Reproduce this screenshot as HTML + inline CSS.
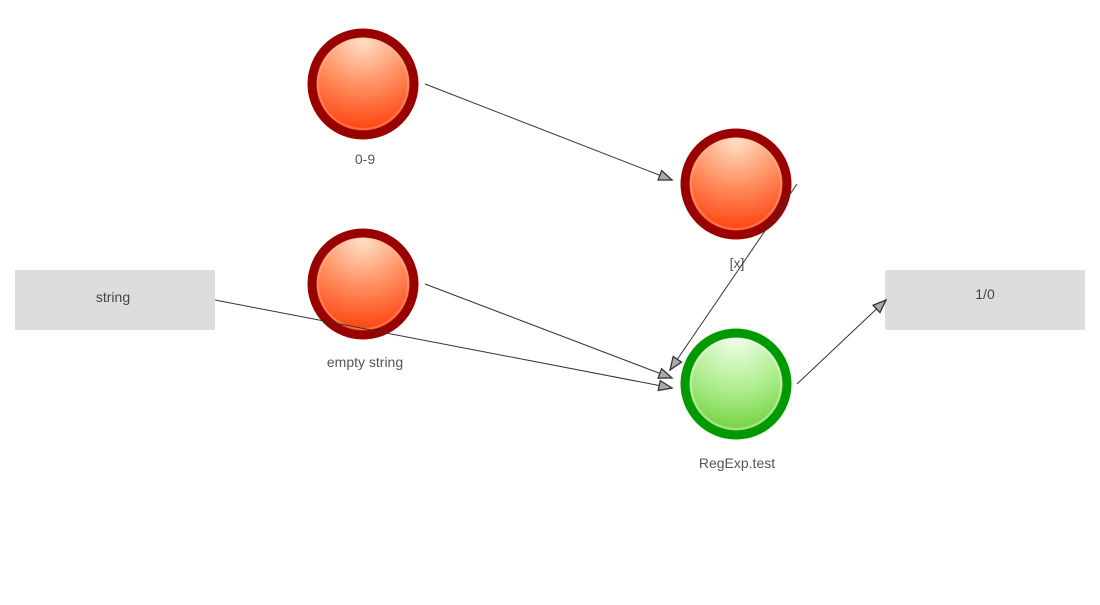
<!DOCTYPE html>
<html><head><style>
body{margin:0;background:#fff;width:1100px;height:600px;overflow:hidden;font-family:"Liberation Sans",sans-serif}
</style></head><body>
<svg width="1100" height="600" xmlns="http://www.w3.org/2000/svg">
<defs>
<radialGradient id="r" cx="0.5" cy="0.05" r="1">
<stop offset="0" stop-color="#ffe4cc"/><stop offset="0.5" stop-color="#ff8a5a"/><stop offset="1" stop-color="#ff3300"/></radialGradient>
<radialGradient id="g" cx="0.5" cy="0.05" r="1">
<stop offset="0" stop-color="#f2ffea"/><stop offset="0.5" stop-color="#b0ee90"/><stop offset="1" stop-color="#66cc33"/></radialGradient>
<marker id="a" markerWidth="16" markerHeight="12" refX="14" refY="6" orient="auto" markerUnits="userSpaceOnUse">
<path d="M1,1 L14,6 L1,11 Z" fill="#aaa" stroke="#333" stroke-width="1.3"/></marker>
</defs>
<rect x="15" y="270" width="200" height="60" fill="#dddddd"/>
<text x="113" y="302" font-size="14" fill="#444" text-anchor="middle">string</text>
<rect x="885" y="270" width="200" height="60" fill="#dddddd"/>
<text x="985" y="299" font-size="14" fill="#444" text-anchor="middle">1/0</text>
<g fill="url(#r)" stroke="#990000" stroke-width="9">
<circle cx="363" cy="84" r="51"/><circle cx="736" cy="184" r="51"/><circle cx="363" cy="284" r="51"/></g>
<circle cx="736" cy="384" r="51" fill="url(#g)" stroke="#009900" stroke-width="9"/>
<g fill="none" stroke-width="2" stroke-opacity="0.35">
<circle cx="363" cy="84" r="45" stroke="#ffc0a0"/><circle cx="736" cy="184" r="45" stroke="#ffc0a0"/><circle cx="363" cy="284" r="45" stroke="#ffc0a0"/><circle cx="736" cy="384" r="45" stroke="#ffffff"/></g>
<g font-size="14" fill="#555" text-anchor="middle">
<text x="365" y="164">0-9</text><text x="737" y="268">[x]</text>
<text x="365" y="367">empty string</text><text x="737" y="468">RegExp.test</text></g>
<g stroke="#333" stroke-width="1" marker-end="url(#a)">
<line x1="425" y1="84" x2="672" y2="180"/>
<line x1="797" y1="184" x2="670" y2="370"/>
<line x1="425" y1="284" x2="672" y2="378"/>
<line x1="215" y1="300" x2="672" y2="388"/>
<line x1="797" y1="384" x2="886" y2="300"/>
</g>
</svg>
</body></html>
